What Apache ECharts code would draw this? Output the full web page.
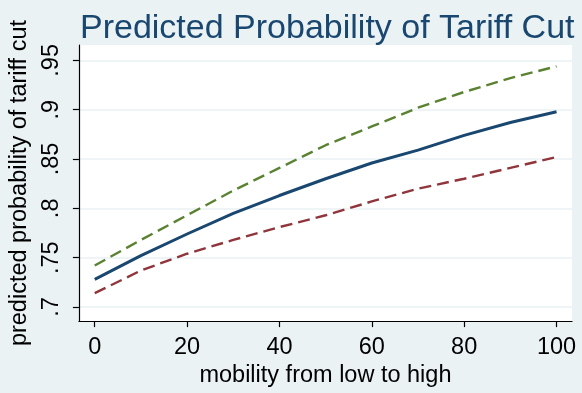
<!DOCTYPE html>
<html>
<head>
<meta charset="utf-8">
<script src="https://cdn.jsdelivr.net/npm/echarts@6/dist/echarts.min.js"></script>
<style>
html,body{margin:0;padding:0;background:#EAF2F3;}
#chart{width:582px;height:393px;}
</style>
</head>
<body>
<div id="chart"></div>
<script>
const mobility = [0, 10, 20, 30, 40, 50, 60, 70, 80, 90, 100];
const predicted = [0.728, 0.752, 0.774, 0.795, 0.813, 0.830, 0.846, 0.859, 0.874, 0.887, 0.898];
const upperBound = [0.742, 0.768, 0.793, 0.818, 0.841, 0.864, 0.883, 0.902, 0.918, 0.932, 0.944];
const lowerBound = [0.714, 0.737, 0.754, 0.768, 0.781, 0.793, 0.807, 0.820, 0.830, 0.841, 0.852];
const xTicks = [0, 20, 40, 60, 80, 100];
const yTicks = [0.7, 0.75, 0.8, 0.85, 0.9, 0.95];
const yTickLabels = ['.7', '.75', '.8', '.85', '.9', '.95'];

const pairs = (ys) => mobility.map((x, i) => [x, ys[i]]);
const font = 'Liberation Sans, Arial, sans-serif';

const chart = echarts.init(document.getElementById('chart'), null, {renderer: 'canvas'});
chart.setOption({
  backgroundColor: '#EAF2F3',
  animation: false,
  title: {
    text: 'Predicted Probability of Tariff Cut',
    left: 75, top: 7,
    textStyle: {color: '#1a476f', fontSize: 34, fontWeight: 'normal', fontFamily: font}
  },
  grid: {left: 74, right: 10, top: 45, bottom: 67, show: true, backgroundColor: '#ffffff', borderWidth: 0},
  xAxis: {
    type: 'value', min: -3.43, max: 103.35,
    name: 'mobility from low to high', nameLocation: 'middle', nameGap: 40,
    nameTextStyle: {color: '#000', fontSize: 23.5, fontFamily: font},
    axisLine: {show: true, onZero: false, lineStyle: {color: '#000', width: 1.2}},
    axisTick: {show: true, length: 6, lineStyle: {color: '#000', width: 1.2}, customValues: xTicks},
    axisLabel: {color: '#000', fontSize: 23.5, fontFamily: font, margin: 14, customValues: xTicks},
    splitLine: {show: false}
  },
  yAxis: {
    type: 'value', min: 0.6857, max: 0.9656,
    name: 'predicted probability of tariff cut', nameLocation: 'middle', nameGap: 37,
    nameTextStyle: {color: '#000', fontSize: 23.5, fontFamily: font},
    axisLine: {show: true, onZero: false, lineStyle: {color: '#000', width: 1.2}},
    axisTick: {show: true, length: 6, lineStyle: {color: '#000', width: 1.2}, customValues: yTicks},
    axisLabel: {
      color: '#000', fontSize: 23.5, fontFamily: font, margin: 15, rotate: 90,
      customValues: yTicks,
      formatter: (v) => { const i = yTicks.findIndex(t => Math.abs(t - v) < 1e-6); return i >= 0 ? yTickLabels[i] : ''; }
    },
    splitLine: {show: true, lineStyle: {color: '#EAF2F3', width: 1.5}}
  },
  series: [
    {type: 'line', data: pairs(upperBound), symbol: 'none', lineStyle: {color: '#5a8232', width: 2.4, type: [12, 6]}},
    {type: 'line', data: pairs(predicted), symbol: 'none', lineStyle: {color: '#1a476f', width: 3}},
    {type: 'line', data: pairs(lowerBound), symbol: 'none', lineStyle: {color: '#90353b', width: 2.4, type: [12, 6]}}
  ]
});
</script>
</body>
</html>
